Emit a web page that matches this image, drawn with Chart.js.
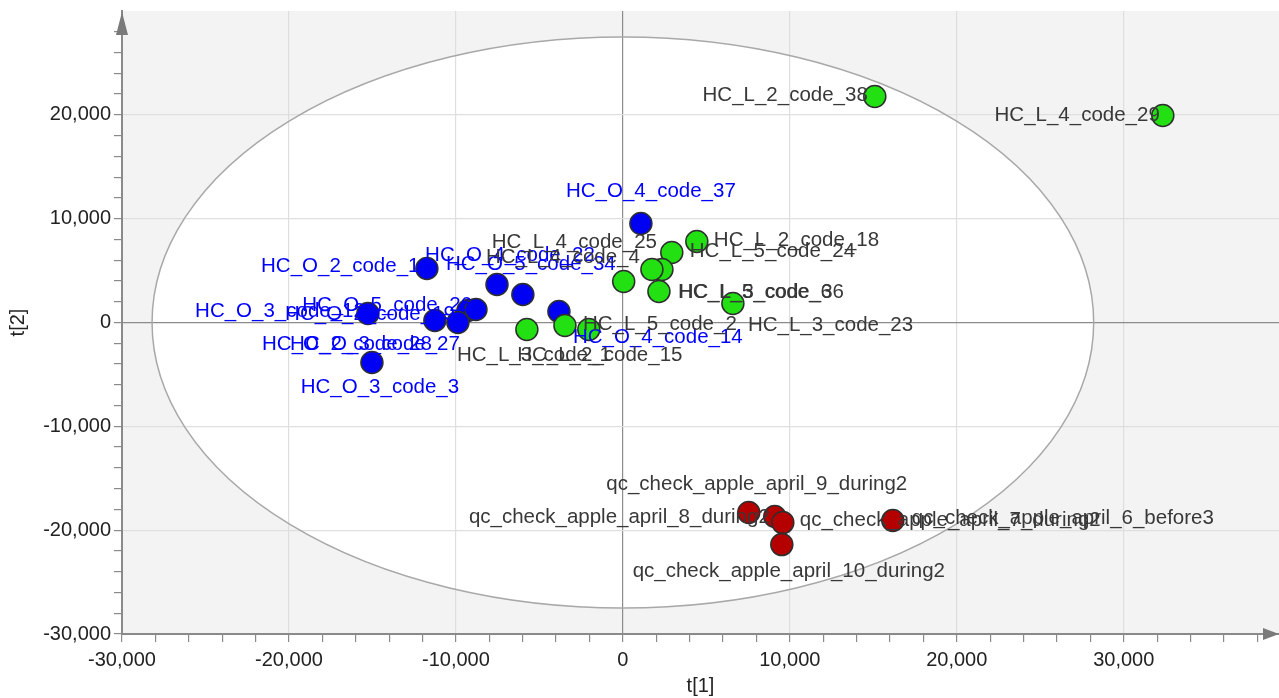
<!DOCTYPE html>
<html lang="en">

<head>
    <meta charset="UTF-8">
    <title>Scores t[1] / t[2]</title>
    <script src="https://cdn.jsdelivr.net/npm/chart.js@4.4.1/dist/chart.umd.min.js"></script>
    <style>
        body { margin: 0; background: #fff; }
        canvas { display: block; }
    </style>
</head>

<body>
    <canvas id="chart" width="1279" height="698"></canvas>

    <script>
        // HC_O (blue)
        const oNames = ['HC_O_4_code_37', 'HC_O_2_code_16', 'HC_O_4_code_22', 'HC_O_5_code_34', 'HC_O_3_code_12', 'HC_O_2_code_19',
            'HC_O_5_code_26', 'HC_O_2_code_28', 'HC_O_3_code_27', 'HC_O_3_code_3', 'HC_O_4_code_14']
        const oT1 = [1080, -11740, -7540, -5990, -15270, -9280, -8800, -11260, -9880, -15030, -3830]
        const oT2 = [9540, 5200, 3660, 2700, 870, 1160, 1250, 190, 0, -3850, 1060]

        // HC_L (green)
        const lNames = ['HC_L_2_code_38', 'HC_L_4_code_29', 'HC_L_2_code_18', 'HC_L_5_code_24', 'HC_L_4_code_25', 'HC_L_4_code_4',
            'HC_L_3_code_36', 'HC_L_5_code_6', 'HC_L_3_code_23', 'HC_L_5_code_2', 'HC_L_3_code_1', 'HC_L_2_code_15']
        const lT1 = [15090, 32340, 4430, 2930, 2340, 1740, 50, 2160, 6590, -3470, -5750, -2040]
        const lT2 = [21770, 19940, 7800, 6740, 5110, 5110, 3950, 2990, 1830, -290, -670, -670]

        // qc (red)
        const qcNames = ['qc_check_apple_april_9_during2', 'qc_check_apple_april_8_during2', 'qc_check_apple_april_7_during2',
            'qc_check_apple_april_10_during2', 'qc_check_apple_april_6_before3']
        const qcT1 = [7540, 9100, 9580, 9520, 16170]
        const qcT2 = [-18300, -18690, -19270, -21390, -19070]

        // axes
        const t1Min = -30000, t1Max = 39300
        const t2Min = -30000, t2Max = 30000
        const majorStep = 10000, minorStep = 2000

        // Hotelling ellipse half axes (t1, t2)
        const ellipseT1 = 28200
        const ellipseT2 = 27500

        // label placement per point: [dx px, dy px, align]
        const oLabelPos = [[10, -32, 'center'], [4, -2, 'right'], [13, -29, 'center'], [8, -30, 'center'], [-3, -2, 'right'],
            [-13, 4, 'right'], [-4, -4, 'right'], [-3, 24, 'right'], [2, 22, 'right'], [8, 25, 'center'], [14, 26, 'left']]
        const lLabelPos = [[-7, -1, 'right'], [-3, 0, 'right'], [17, -1, 'left'], [18, -1, 'left'], [-5, -27, 'right'],
            [-12, -12, 'right'], [55, 11, 'left'], [19, 1, 'left'], [15, 22, 'left'], [18, -1, 'left'], [7, 26, 'center'], [11, 26, 'center']]
        const qcLabelPos = [[8, -28, 'center'], [-5, 1, 'right'], [17, -2, 'left'], [7, 27, 'center'], [19, -2, 'left']]

        const FONT = '"Liberation Sans", Arial, Helvetica, sans-serif'

        function toPoints(t1, t2) {
            return t1.map((v, i) => ({ x: v, y: t2[i] }))
        }

        // ticks every minorStep, strictly below the axis max (the arrow sits there)
        function stepTicks(min, max) {
            let ticks = []
            for (let v = min; v < max; v += minorStep) {
                ticks.push({ value: v })
            }
            return ticks
        }

        //plugins-------------------------------------------
        const plotBack = {
            id: 'plotBack',
            beforeDraw(chart) {
                const { ctx, chartArea: a, scales: { x, y } } = chart
                ctx.save()
                ctx.fillStyle = '#f3f3f3'
                ctx.fillRect(a.left, a.top, a.right - a.left, a.bottom - a.top)
                const cx = x.getPixelForValue(0), cy = y.getPixelForValue(0)
                const rx = x.getPixelForValue(ellipseT1) - cx
                const ry = cy - y.getPixelForValue(ellipseT2)
                ctx.fillStyle = '#ffffff'
                ctx.beginPath()
                ctx.ellipse(cx, cy, rx, ry, 0, 0, Math.PI * 2)
                ctx.fill()
                ctx.restore()
            },
            beforeDatasetsDraw(chart) {
                const { ctx, scales: { x, y } } = chart
                const cx = x.getPixelForValue(0), cy = y.getPixelForValue(0)
                const rx = x.getPixelForValue(ellipseT1) - cx
                const ry = cy - y.getPixelForValue(ellipseT2)
                ctx.save()
                ctx.strokeStyle = '#a8a8a8'
                ctx.lineWidth = 1.5
                ctx.beginPath()
                ctx.ellipse(cx, cy, rx, ry, 0, 0, Math.PI * 2)
                ctx.stroke()
                ctx.restore()
            },
            afterDatasetsDraw(chart) {
                const ctx = chart.ctx
                ctx.save()
                ctx.font = '20.5px ' + FONT
                ctx.textBaseline = 'middle'
                chart.data.datasets.forEach((ds, di) => {
                    const meta = chart.getDatasetMeta(di)
                    ctx.fillStyle = ds.labelColor
                    meta.data.forEach((pt, i) => {
                        const p = ds.labelPos[i]
                        ctx.textAlign = p[2]
                        ctx.fillText(ds.names[i], pt.x + p[0], pt.y + p[1])
                    })
                })
                ctx.restore()
            },
            afterDraw(chart) {
                const { ctx, chartArea: a } = chart
                ctx.save()
                ctx.fillStyle = '#7a7a7a'
                // arrow up on t[2]
                ctx.beginPath()
                ctx.moveTo(a.left, a.top + 1)
                ctx.lineTo(a.left - 6, a.top + 24)
                ctx.lineTo(a.left + 6, a.top + 24)
                ctx.closePath()
                ctx.fill()
                // arrow right on t[1]
                ctx.beginPath()
                ctx.moveTo(a.right, a.bottom)
                ctx.lineTo(a.right - 16, a.bottom - 6)
                ctx.lineTo(a.right - 16, a.bottom + 6)
                ctx.closePath()
                ctx.fill()
                ctx.restore()
            }
        }

        function gridColor(c) {
            const v = c.tick.value
            if (v === 0) return '#8c8c8c'
            if (v % majorStep === 0) return '#dedede'
            return 'rgba(0,0,0,0)'
        }

        function tickLabel(v) {
            return v % majorStep === 0 ? v.toLocaleString('en-US') : ''
        }

        //chart-------------------------------------------
        const ctx = document.getElementById('chart').getContext('2d');
        const myChart = new Chart(ctx, {
            type: 'scatter',
            data: {
                datasets: [{
                    label: 'HC_O',
                    data: toPoints(oT1, oT2),
                    names: oNames,
                    labelPos: oLabelPos,
                    labelColor: '#0000ff',
                    backgroundColor: '#0000f2',
                    order: 3
                }, {
                    label: 'HC_L',
                    data: toPoints(lT1, lT2),
                    names: lNames,
                    labelPos: lLabelPos,
                    labelColor: '#383838',
                    backgroundColor: '#22e012',
                    order: 2
                }, {
                    label: 'qc',
                    data: toPoints(qcT1, qcT2),
                    names: qcNames,
                    labelPos: qcLabelPos,
                    labelColor: '#383838',
                    backgroundColor: '#b50000',
                    order: 1
                }]
            },
            options: {
                responsive: false,
                animation: false,
                layout: { autoPadding: false, padding: { top: 11, right: 0, left: 0, bottom: 0 } },
                elements: {
                    point: { radius: 11, borderWidth: 1.5, borderColor: '#2e2e2e' }
                },
                plugins: {
                    legend: { display: false },
                    tooltip: { enabled: false }
                },
                scales: {
                    x: {
                        type: 'linear',
                        bounds: 'data',
                        min: t1Min,
                        max: t1Max,
                        afterBuildTicks(s) { s.ticks = stepTicks(t1Min, t1Max) },
                        afterFit(s) {
                            s.height = 64
                            s.paddingLeft = 0
                            s.paddingRight = 0
                        },
                        border: { color: '#8a8a8a', width: 2 },
                        grid: { color: gridColor, tickColor: '#8a8a8a', tickLength: 8, lineWidth: 1.2 },
                        ticks: {
                            autoSkip: false,
                            maxRotation: 0,
                            padding: 6,
                            color: '#222',
                            font: { family: FONT, size: 20 },
                            callback: tickLabel
                        },
                        title: { display: true, text: 't[1]', color: '#222', font: { family: FONT, size: 20 }, padding: { top: 0, bottom: 0 } }
                    },
                    y: {
                        type: 'linear',
                        bounds: 'data',
                        min: t2Min,
                        max: t2Max,
                        afterBuildTicks(s) { s.ticks = stepTicks(t2Min, t2Max) },
                        afterFit(s) {
                            s.width = 122
                            s.paddingTop = 0
                            s.paddingBottom = 0
                        },
                        border: { color: '#8a8a8a', width: 2 },
                        grid: { color: gridColor, tickColor: '#8a8a8a', tickLength: 8, lineWidth: 1.2 },
                        ticks: {
                            autoSkip: false,
                            padding: 3,
                            color: '#222',
                            font: { family: FONT, size: 20 },
                            callback: tickLabel
                        },
                        title: { display: true, text: 't[2]', color: '#222', font: { family: FONT, size: 20 }, padding: { top: 6, bottom: 0 } }
                    }
                }
            },
            plugins: [plotBack]
        });
    </script>

</body>

</html>
